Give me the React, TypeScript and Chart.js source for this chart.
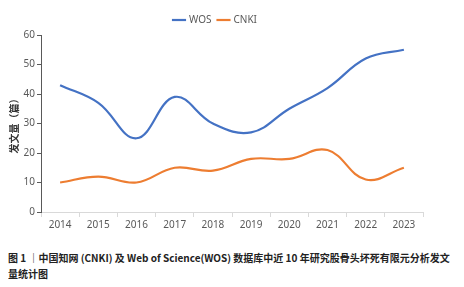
import React, { useEffect, useRef } from "react";
import { Chart, registerables } from "chart.js";

Chart.register(...registerables);

const years = ["2014", "2015", "2016", "2017", "2018", "2019", "2020", "2021", "2022", "2023"];
const wosValues = [43, 37, 25, 39, 30, 27, 35, 42, 52, 55];
const cnkiValues = [10, 12, 10, 15, 14, 18, 18, 21, 11, 15];
const yTitle = "发文量（篇）";
const captionLine1 = "图 1 ｜中国知网 (CNKI) 及 Web of Science(WOS) 数据库中近 10 年研究股骨头坏死有限元分析发文";
const captionLine2 = "量统计图";

export default function App() {
  const ref = useRef<HTMLCanvasElement | null>(null);
  useEffect(() => {
    if (!ref.current) return;
    const font = { family: "'Noto Sans', 'Noto Sans CJK SC', sans-serif", size: 10 };
    const chart = new Chart(ref.current, {
      type: "line",
      data: {
        labels: years,
        datasets: [
          {
            label: "WOS",
            data: wosValues,
            borderColor: "#4472C4",
            backgroundColor: "#4472C4",
            borderWidth: 2.2,
            pointRadius: 0,
            tension: 0.4,
          },
          {
            label: "CNKI",
            data: cnkiValues,
            borderColor: "#ED7D31",
            backgroundColor: "#ED7D31",
            borderWidth: 2.2,
            pointRadius: 0,
            tension: 0.4,
          },
        ],
      },
      options: {
        animation: false,
        responsive: false,
        maintainAspectRatio: false,
        layout: { padding: { left: 0, right: 33, top: 0, bottom: 0 } },
        plugins: {
          legend: {
            position: "top",
            align: "center",
            labels: {
              usePointStyle: true,
              pointStyle: "line",
              boxWidth: 22,
              color: "#595959",
              font,
              padding: 7,
            },
          },
          tooltip: { enabled: false },
        },
        scales: {
          x: {
            offset: true,
            grid: {
              display: true,
              drawOnChartArea: false,
              drawTicks: true,
              tickLength: 5,
              color: "#d9d9d9",
              offset: true,
            },
            border: { display: true, color: "#d9d9d9", width: 1 },
            ticks: { color: "#595959", font, padding: 2, maxRotation: 0 },
            afterFit: (s: any) => {
              s.height = 26;
            },
          },
          y: {
            min: 0,
            max: 60,
            grid: {
              display: true,
              drawOnChartArea: false,
              drawTicks: true,
              tickLength: 4,
              color: "#595959",
            },
            border: { display: true, color: "#595959", width: 1 },
            ticks: { stepSize: 10, color: "#595959", font, padding: 2 },
            title: {
              display: true,
              text: yTitle,
              color: "#333",
              font: { family: "'Noto Sans CJK SC', sans-serif", size: 10, weight: "bold" },
              padding: 0,
            },
            afterFit: (s: any) => {
              s.width = 33;
            },
          },
        },
      },
    });
    return () => chart.destroy();
  }, []);
  return (
    <div style={{ width: 448 }}>
      <div style={{ width: 448, height: 230 }}>
        <canvas ref={ref} width={448} height={230} style={{ display: "block" }} />
      </div>
      <div
        style={{
          marginTop: 12,
          fontFamily: "'Noto Sans CJK SC', sans-serif",
          fontWeight: "bold",
          fontSize: 10,
          lineHeight: "16px",
          color: "#222",
          whiteSpace: "nowrap",
        }}
      >
        {captionLine1}
        <br />
        {captionLine2}
      </div>
    </div>
  );
}
